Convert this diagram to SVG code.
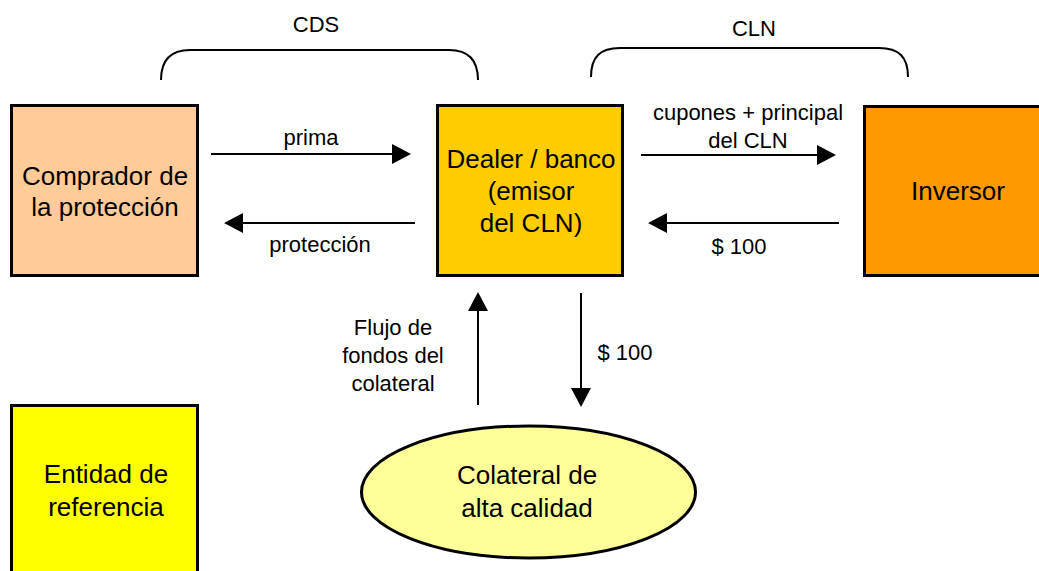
<svg xmlns="http://www.w3.org/2000/svg" width="1039" height="571" viewBox="0 0 1039 571">
<style>
.box{stroke:#000;stroke-width:3}
.big{font-family:"Liberation Sans",Arial,sans-serif;font-size:26px;fill:#000;text-anchor:middle}
.sm{font-family:"Liberation Sans",Arial,sans-serif;font-size:22px;fill:#000;text-anchor:middle}
.ln{stroke:#000;stroke-width:2;fill:none}
</style>
<defs>
<marker id="ah" viewBox="0 0 19 20" markerWidth="19" markerHeight="20" refX="1" refY="10" orient="auto" markerUnits="userSpaceOnUse">
<path d="M0,0 L19,10 L0,20 z" fill="#000"/>
</marker>
</defs>
<rect width="1039" height="571" fill="#fff"/>
<g id="brace-cds">
<path class="ln" d="M161,80 C161,60 170,50 190,50 H449 C469,50 478,60 478,80"/>
<text class="sm" x="316" y="32">CDS</text>
</g>
<g id="brace-cln">
<path class="ln" d="M591,77 C591,57 600,48 620,48 H879 C899,48 908,57 908,77"/>
<text class="sm" x="754" y="36">CLN</text>
</g>
<g id="comprador">
<rect class="box" x="11.5" y="105.5" width="186" height="170" fill="#FFCC99"/>
<text class="big" x="105" y="185">Comprador de</text>
<text class="big" x="105" y="216">la protección</text>
</g>
<g id="dealer">
<rect class="box" x="437.5" y="105.5" width="185" height="170" fill="#FFCC00"/>
<text class="big" x="531" y="168">Dealer / banco</text>
<text class="big" x="531" y="200">(emisor</text>
<text class="big" x="531" y="232">del CLN)</text>
</g>
<g id="inversor">
<rect class="box" x="864.5" y="106.5" width="187" height="169" fill="#FF9900"/>
<text class="big" x="958" y="200">Inversor</text>
</g>
<g id="entidad">
<rect class="box" x="11.5" y="405.5" width="186" height="175" fill="#FFFF00"/>
<text class="big" x="106" y="483">Entidad de</text>
<text class="big" x="106" y="516">referencia</text>
</g>
<g id="colateral">
<ellipse class="box" cx="528.5" cy="492" rx="167" ry="66" stroke-width="2" fill="#FFFF99"/>
<text class="big" x="527" y="484">Colateral de</text>
<text class="big" x="527" y="517">alta calidad</text>
</g>
<g id="connectors">
<line class="ln" x1="211" y1="154" x2="393" y2="154" marker-end="url(#ah)"/>
<line class="ln" x1="415" y1="223" x2="242" y2="223" marker-end="url(#ah)"/>
<line class="ln" x1="641" y1="155" x2="818" y2="155" marker-end="url(#ah)"/>
<line class="ln" x1="839" y1="223" x2="666" y2="223" marker-end="url(#ah)"/>
<line class="ln" x1="478" y1="405" x2="478" y2="310" marker-end="url(#ah)"/>
<line class="ln" x1="581" y1="293" x2="581" y2="389" marker-end="url(#ah)"/>
<text class="sm" x="311" y="145">prima</text>
<text class="sm" x="320" y="252">protección</text>
<text class="sm" x="748" y="120">cupones + principal</text>
<text class="sm" x="748" y="148">del CLN</text>
<text class="sm" x="739" y="254">$ 100</text>
<text class="sm" x="393" y="335">Flujo de</text>
<text class="sm" x="393" y="363">fondos del</text>
<text class="sm" x="393" y="391">colateral</text>
<text class="sm" x="625" y="360">$ 100</text>
</g>
</svg>
